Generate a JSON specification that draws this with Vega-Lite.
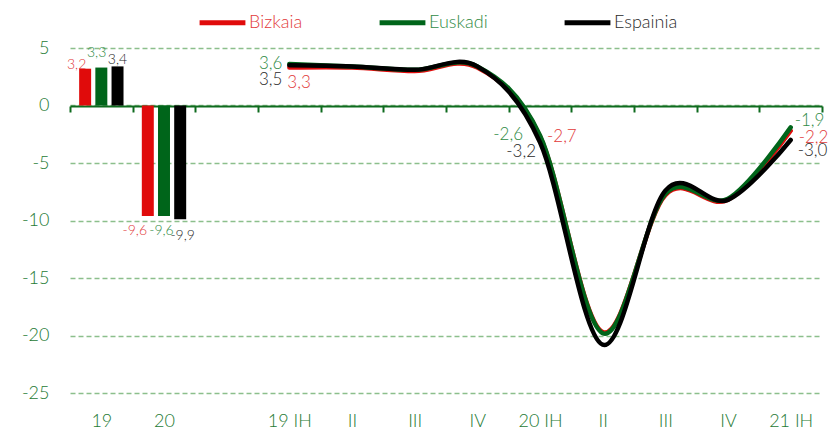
{
  "$schema": "https://vega.github.io/schema/vega-lite/v6.json",
  "width": 752,
  "height": 345,
  "autosize": {"type": "none"},
  "padding": {"left": 70, "top": 48, "right": 12, "bottom": 38},
  "background": "white",
  "config": {
    "locale": {"number": {"decimal": ",", "thousands": ".", "grouping": [3], "currency": ["", " €"], "minus": "-"}},
    "font": "Lato",
    "view": {"stroke": null},
    "text": {"fontWeight": 300}
  },
  "data": {
    "values": [
      {"period": "19", "series": "Bizkaia", "value": 3.2, "kind": "a"},
      {"period": "19", "series": "Euskadi", "value": 3.3, "kind": "a"},
      {"period": "19", "series": "Espainia", "value": 3.4, "kind": "a"},
      {"period": "20", "series": "Bizkaia", "value": -9.6, "kind": "a"},
      {"period": "20", "series": "Euskadi", "value": -9.6, "kind": "a"},
      {"period": "20", "series": "Espainia", "value": -9.9, "kind": "a"},
      {"period": "19 IH", "series": "Bizkaia", "value": 3.3, "kind": "q"},
      {"period": "19 IH", "series": "Euskadi", "value": 3.6, "kind": "q"},
      {"period": "19 IH", "series": "Espainia", "value": 3.5, "kind": "q"},
      {"period": "19 II", "series": "Bizkaia", "value": 3.3, "kind": "q"},
      {"period": "19 II", "series": "Euskadi", "value": 3.4, "kind": "q"},
      {"period": "19 II", "series": "Espainia", "value": 3.4, "kind": "q"},
      {"period": "19 III", "series": "Bizkaia", "value": 3.0, "kind": "q"},
      {"period": "19 III", "series": "Euskadi", "value": 3.1, "kind": "q"},
      {"period": "19 III", "series": "Espainia", "value": 3.1, "kind": "q"},
      {"period": "19 IV", "series": "Bizkaia", "value": 3.3, "kind": "q"},
      {"period": "19 IV", "series": "Euskadi", "value": 3.4, "kind": "q"},
      {"period": "19 IV", "series": "Espainia", "value": 3.4, "kind": "q"},
      {"period": "20 IH", "series": "Bizkaia", "value": -2.7, "kind": "q"},
      {"period": "20 IH", "series": "Euskadi", "value": -2.6, "kind": "q"},
      {"period": "20 IH", "series": "Espainia", "value": -3.2, "kind": "q"},
      {"period": "20 II", "series": "Bizkaia", "value": -19.7, "kind": "q"},
      {"period": "20 II", "series": "Euskadi", "value": -19.8, "kind": "q"},
      {"period": "20 II", "series": "Espainia", "value": -20.8, "kind": "q"},
      {"period": "20 III", "series": "Bizkaia", "value": -7.8, "kind": "q"},
      {"period": "20 III", "series": "Euskadi", "value": -7.7, "kind": "q"},
      {"period": "20 III", "series": "Espainia", "value": -7.4, "kind": "q"},
      {"period": "20 IV", "series": "Bizkaia", "value": -8.2, "kind": "q"},
      {"period": "20 IV", "series": "Euskadi", "value": -8.1, "kind": "q"},
      {"period": "20 IV", "series": "Espainia", "value": -8.2, "kind": "q"},
      {"period": "21 IH", "series": "Bizkaia", "value": -2.2, "kind": "q"},
      {"period": "21 IH", "series": "Euskadi", "value": -1.9, "kind": "q"},
      {"period": "21 IH", "series": "Espainia", "value": -3.0, "kind": "q"}
    ]
  },
  "encoding": {
    "x": {
      "field": "period", "type": "nominal", "sort": null,
      "scale": {"domain": ["19", "20", "gap", "19 IH", "19 II", "19 III", "19 IV", "20 IH", "20 II", "20 III", "20 IV", "21 IH"], "paddingInner": 0, "paddingOuter": 0},
      "axis": {
        "title": null, "labelAngle": 0, "grid": false,
        "domain": true, "domainColor": "#0e6b1e", "domainWidth": 2,
        "ticks": true, "tickColor": "#0e6b1e", "tickWidth": 2, "tickSize": 6, "tickBand": "extent",
        "offset": -287, "labelPadding": 300,
        "labelColor": "#1e7a34", "labelFontSize": 18, "labelFont": "Lato", "labelFontWeight": 300,
        "labelExpr": "datum.value == 'gap' ? '' : (datum.value == '19 II' || datum.value == '19 III' || datum.value == '19 IV' || datum.value == '20 II' || datum.value == '20 III' || datum.value == '20 IV') ? split(datum.value, ' ')[1] : datum.value"
      }
    },
    "y": {
      "field": "value", "type": "quantitative",
      "scale": {"domain": [-25, 5], "nice": false, "zero": false},
      "axis": {
        "title": null, "domain": false, "ticks": false, "grid": true,
        "gridColor": "#8cbf8c", "gridDash": [5, 3], "gridWidth": 1.5,
        "values": [-25, -20, -15, -10, -5, 0, 5], "format": "d",
        "labelPadding": 21, "labelFontSize": 18, "labelColor": "#1e7a34", "labelFont": "Lato", "labelFontWeight": 300
      }
    },
    "color": {
      "field": "series", "type": "nominal",
      "scale": {"domain": ["Bizkaia", "Euskadi", "Espainia"], "range": ["#e00b0b", "#00651a", "#000000"]},
      "legend": {
        "orient": "none", "legendX": 127, "legendY": -51, "direction": "horizontal", "title": null,
        "padding": 0, "symbolType": "stroke", "symbolSize": 2100, "symbolStrokeWidth": 5,
        "labelFontSize": 18, "labelFont": "Lato", "labelFontWeight": 300, "labelOffset": 1, "columnPadding": 66,
        "labelColor": {"expr": "datum.value == 'Bizkaia' ? '#e23a3a' : datum.value == 'Euskadi' ? '#2f8a45' : '#2a2a2a'"}
      }
    }
  },
  "layer": [
    {
      "transform": [{"filter": "datum.kind == 'q'"}],
      "mark": {"type": "line", "interpolate": "cardinal", "strokeWidth": 4.5, "strokeCap": "round"}
    },
    {
      "transform": [{"filter": "datum.kind == 'a'"}],
      "mark": {"type": "bar"},
      "encoding": {
        "xOffset": {"field": "series", "type": "nominal", "sort": ["Bizkaia", "Euskadi", "Espainia"], "scale": {"paddingInner": 0.26, "paddingOuter": 0.565}}
      }
    },
    {
      "transform": [{"filter": "datum.period == '19' && datum.series == 'Bizkaia'"}],
      "mark": {"type": "text", "fontSize": 14, "align": "center", "baseline": "middle", "dx": -8.5, "dy": -4},
      "encoding": {"xOffset": {"field": "series", "type": "nominal", "sort": ["Bizkaia", "Euskadi", "Espainia"]}, "text": {"field": "value", "format": ".1f"}, "color": {"value": "#e23a3a"}}
    },
    {
      "transform": [{"filter": "datum.period == '19' && datum.series == 'Euskadi'"}],
      "mark": {"type": "text", "fontSize": 14, "align": "center", "baseline": "middle", "dx": -4.7, "dy": -15},
      "encoding": {"xOffset": {"field": "series", "type": "nominal", "sort": ["Bizkaia", "Euskadi", "Espainia"]}, "text": {"field": "value", "format": ".1f"}, "color": {"value": "#2f8a45"}}
    },
    {
      "transform": [{"filter": "datum.period == '19' && datum.series == 'Espainia'"}],
      "mark": {"type": "text", "fontSize": 14, "align": "center", "baseline": "middle", "dx": 0, "dy": -6},
      "encoding": {"xOffset": {"field": "series", "type": "nominal", "sort": ["Bizkaia", "Euskadi", "Espainia"]}, "text": {"field": "value", "format": ".1f"}, "color": {"value": "#2a2a2a"}}
    },
    {
      "transform": [{"filter": "datum.period == '20' && datum.series == 'Bizkaia'"}],
      "mark": {"type": "text", "fontSize": 14, "align": "center", "baseline": "middle", "dx": -13, "dy": 15},
      "encoding": {"xOffset": {"field": "series", "type": "nominal", "sort": ["Bizkaia", "Euskadi", "Espainia"]}, "text": {"field": "value", "format": ".1f"}, "color": {"value": "#e23a3a"}}
    },
    {
      "transform": [{"filter": "datum.period == '20' && datum.series == 'Euskadi'"}],
      "mark": {"type": "text", "fontSize": 14, "align": "center", "baseline": "middle", "dx": -2.5, "dy": 15},
      "encoding": {"xOffset": {"field": "series", "type": "nominal", "sort": ["Bizkaia", "Euskadi", "Espainia"]}, "text": {"field": "value", "format": ".1f"}, "color": {"value": "#2f8a45"}}
    },
    {
      "transform": [{"filter": "datum.period == '20' && datum.series == 'Espainia'"}],
      "mark": {"type": "text", "fontSize": 14, "align": "center", "baseline": "middle", "dx": 2.5, "dy": 17},
      "encoding": {"xOffset": {"field": "series", "type": "nominal", "sort": ["Bizkaia", "Euskadi", "Espainia"]}, "text": {"field": "value", "format": ".1f"}, "color": {"value": "#2a2a2a"}}
    },
    {
      "transform": [{"filter": "datum.period == '19 IH' && datum.series == 'Euskadi'"}],
      "mark": {"type": "text", "fontSize": 17, "align": "right", "baseline": "middle", "dx": -7, "dy": 0},
      "encoding": {"text": {"field": "value", "format": ".1f"}, "color": {"value": "#2f8a45"}}
    },
    {
      "transform": [{"filter": "datum.period == '19 IH' && datum.series == 'Espainia'"}],
      "mark": {"type": "text", "fontSize": 17, "align": "right", "baseline": "middle", "dx": -7, "dy": 15},
      "encoding": {"text": {"field": "value", "format": ".1f"}, "color": {"value": "#2a2a2a"}}
    },
    {
      "transform": [{"filter": "datum.period == '19 IH' && datum.series == 'Bizkaia'"}],
      "mark": {"type": "text", "fontSize": 17, "align": "left", "baseline": "middle", "dx": -2, "dy": 15},
      "encoding": {"text": {"field": "value", "format": ".1f"}, "color": {"value": "#e23a3a"}}
    },
    {
      "transform": [{"filter": "datum.period == '20 IH' && datum.series == 'Euskadi'"}],
      "mark": {"type": "text", "fontSize": 17, "align": "right", "baseline": "middle", "dx": -17, "dy": 0},
      "encoding": {"text": {"field": "value", "format": ".1f"}, "color": {"value": "#2f8a45"}}
    },
    {
      "transform": [{"filter": "datum.period == '20 IH' && datum.series == 'Espainia'"}],
      "mark": {"type": "text", "fontSize": 17, "align": "right", "baseline": "middle", "dx": -4, "dy": 10},
      "encoding": {"text": {"field": "value", "format": ".1f"}, "color": {"value": "#2a2a2a"}}
    },
    {
      "transform": [{"filter": "datum.period == '20 IH' && datum.series == 'Bizkaia'"}],
      "mark": {"type": "text", "fontSize": 17, "align": "left", "baseline": "middle", "dx": 7, "dy": 0},
      "encoding": {"text": {"field": "value", "format": ".1f"}, "color": {"value": "#e23a3a"}}
    },
    {
      "transform": [{"filter": "datum.period == '21 IH' && datum.series == 'Euskadi'"}],
      "mark": {"type": "text", "fontSize": 17, "align": "left", "baseline": "middle", "dx": 4, "dy": -6},
      "encoding": {"text": {"field": "value", "format": ".1f"}, "color": {"value": "#2f8a45"}}
    },
    {
      "transform": [{"filter": "datum.period == '21 IH' && datum.series == 'Bizkaia'"}],
      "mark": {"type": "text", "fontSize": 17, "align": "left", "baseline": "middle", "dx": 8, "dy": 7},
      "encoding": {"text": {"field": "value", "format": ".1f"}, "color": {"value": "#e23a3a"}}
    },
    {
      "transform": [{"filter": "datum.period == '21 IH' && datum.series == 'Espainia'"}],
      "mark": {"type": "text", "fontSize": 17, "align": "left", "baseline": "middle", "dx": 7, "dy": 11},
      "encoding": {"text": {"field": "value", "format": ".1f"}, "color": {"value": "#2a2a2a"}}
    }
  ]
}
